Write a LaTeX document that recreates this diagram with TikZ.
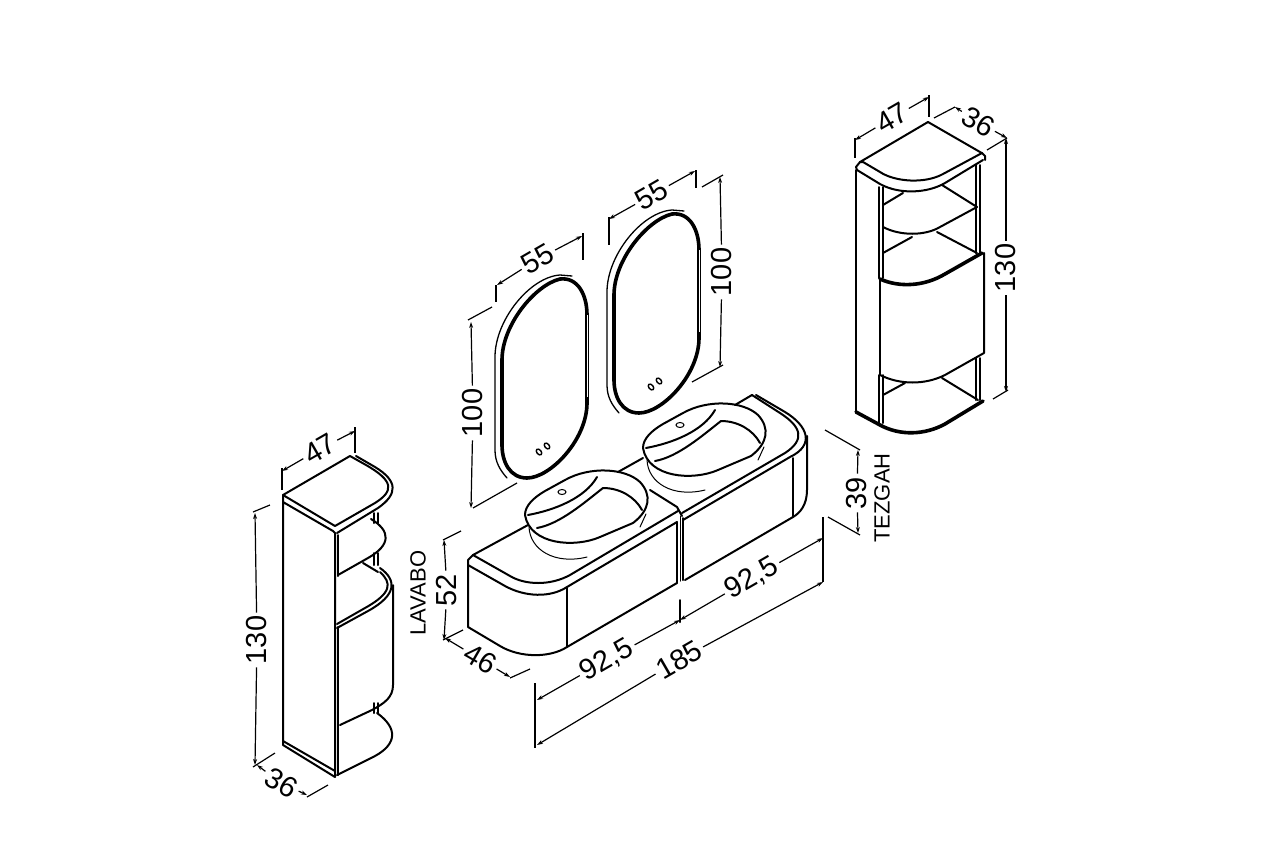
\documentclass[tikz,border=0pt]{standalone}
\usepackage{fontspec}
\setmainfont{Liberation Sans}
\usetikzlibrary{arrows.meta}
\tikzset{
	outline/.style = {draw = black, line width = 2pt, line cap = round, line join = round},
	hairline/.style = {draw = black, line width = 1pt, line cap = round},
	heavy/.style = {draw = black, line width = 3.6pt, line cap = round, line join = round},
	extline/.style = {draw = black, line width = 1.2pt},
	dimline/.style = {draw = black, line width = 1.2pt, -{Stealth[length = 6pt, width = 4pt]}},
	dimtext/.style = {font = \fontsize{29}{29}\selectfont, inner sep = 3pt},
	nametext/.style = {font = \fontsize{22}{22}\selectfont, inner sep = 0pt, rotate = 90}
}
\begin{document}
\begin{tikzpicture}[x = 1pt, y = -1pt]
	\useasboundingbox [fill = white] (0, 0) rectangle (1264, 841);

	% left cabinet
	\draw [outline] (283, 495) -- (350, 456) -- (366, 465) .. controls (394, 481) and (394, 491) .. (375, 503) -- (335, 526) -- cycle;
	\draw [outline] (356, 456) -- (375, 467) .. controls (398, 481) and (398, 494) .. (378, 508) -- (337, 533);
	\draw [outline] (283, 495) -- (283, 745) -- (335, 777) -- (335, 533) -- (333, 531) -- (283, 502);
	\draw [outline] (283, 741) -- (335, 771);
	\draw [outline] (338, 535) -- (338, 576);
	\draw [outline] (338, 627) -- (338, 775);
	\draw [outline] (338, 575) -- (368, 558) .. controls (391, 545) and (391, 531) .. (371, 519);
	\draw [outline] (363, 563) -- (378, 572);
	\draw [outline] (337, 624) -- (365, 608) .. controls (392, 593) and (392, 583) .. (380, 572);
	\draw [outline] (337, 628) -- (368, 611) .. controls (397, 595) and (397, 580) .. (380, 568);
	\draw [outline] (393, 585) -- (393, 685) .. controls (393, 697) and (385, 703) .. (372, 710) -- (340, 725);
	\draw [outline] (337, 775) -- (375, 756) .. controls (397, 744) and (398, 728) .. (377, 713);
	\foreach \postx in {374, 378}{
		\draw [outline] (\postx, 513) -- (\postx, 523);
		\draw [outline] (\postx, 553) -- (\postx, 565);
		\draw [outline] (\postx, 703) -- (\postx, 713);
	}

	% vanity top and body
	\draw [outline] (468, 560) -- (473, 555) -- (528, 525);
	\draw [outline] (618, 472) -- (643, 458);
	\draw [outline] (735, 405) -- (752, 395);
	\draw [outline] (473, 555) -- (510, 576) .. controls (525, 585) and (550, 586) .. (570, 575) -- (678, 511);
	\draw [outline] (468, 565) -- (505, 586) .. controls (525, 597) and (550, 598) .. (567, 587) -- (677, 522);
	\draw [outline] (468, 560) -- (468, 627) -- (500, 646) .. controls (520, 658) and (550, 658) .. (567, 647) -- (677, 583);
	\draw [outline] (567, 587) -- (567, 647);
	\draw [outline] (650, 490) -- (677, 507) -- (682, 516);
	\draw [outline] (677, 522) -- (677, 583);
	\draw [hairline] (680, 516) -- (680, 581);
	\draw [outline] (683, 518) -- (683, 580);
	\draw [outline] (752, 395) -- (780, 413) .. controls (802, 427) and (805, 440) .. (785, 453) -- (682, 513);
	\draw [outline] (756, 395) -- (785, 412) .. controls (808, 426) and (815, 445) .. (790, 457) -- (683, 520);
	\draw [outline] (807, 436) -- (807, 490) .. controls (807, 505) and (800, 513) .. (793, 517) -- (685, 580);
	\draw [outline] (793, 458) -- (793, 517);

	% basins
	\foreach \basinx/\basiny in {0/0, 118/-67}{
		\begin{scope}[shift = {(\basinx, \basiny)}]
			\draw [outline] (525, 515) .. controls (525, 506) and (533, 498) .. (545, 491) -- (565, 480) .. controls (590, 466) and (625, 468) .. (640, 482) .. controls (652, 495) and (650, 510) .. (633, 523) -- (600, 537) .. controls (575, 548) and (530, 545) .. (525, 515);
			\draw [outline] (528, 515) .. controls (555, 510) and (585, 498) .. (597, 477);
			\draw [outline] (537, 528) .. controls (560, 524) and (585, 502) .. (603, 488) .. controls (620, 488) and (635, 497) .. (642, 510);
			\draw [hairline] (529, 527) .. controls (530, 550) and (555, 565) .. (587, 557);
			\draw [hairline] (646, 514) -- (640, 527);
			\draw [hairline] (562, 492) ellipse [x radius = 4, y radius = 2.5];
		\end{scope}
	}

	% mirrors
	\foreach \mirrorx/\mirrory in {0/0, 112/-65}{
		\begin{scope}[shift = {(\mirrorx, \mirrory)}]
			\draw [heavy] (502, 360) .. controls (502, 325) and (535, 285) .. (560, 279) .. controls (578, 277) and (587, 295) .. (587, 315) -- (587, 403) .. controls (587, 440) and (550, 478) .. (527, 478) .. controls (510, 478) and (502, 462) .. (502, 445) -- cycle;
			\draw [outline, line width = 1.3pt] (507, 478) .. controls (500, 470) and (495, 462) .. (495, 450) -- (495, 357) .. controls (495, 320) and (530, 277) .. (560, 275) -- (572, 276);
			\draw [draw = white, line width = 0.8pt] (587, 315) -- (587, 397);
			\foreach \dotx/\doty in {539/452, 547/446}{
				\draw [outline, line width = 1.4pt, rotate around = {40:(\dotx, \doty)}] (\dotx, \doty) ellipse [x radius = 2.2, y radius = 3.4];
			}
		\end{scope}
	}

	% right cabinet
	\draw [outline] (928, 122) -- (860, 162);
	\draw [outline] (928, 122) -- (980, 152) -- (982, 153);
	\draw [outline] (982, 153) -- (943, 174) .. controls (925, 184) and (895, 182) .. (880, 172) -- (863, 162) -- (860, 162) -- (856, 167) -- (857, 170);
	\draw [outline] (857, 170) -- (880, 184) .. controls (900, 195) and (928, 193) .. (945, 183) -- (983, 160);
	\draw [outline] (982, 153) -- (985, 156) -- (985, 160);
	\draw [outline] (856, 170) -- (856, 412);
	\draw [heavy] (856, 412) -- (880, 425) .. controls (900, 436) and (925, 435) .. (945, 424) -- (983, 401);
	\foreach \postx in {879, 883}{
		\draw [outline] (\postx, 187) -- (\postx, 278);
		\draw [outline] (\postx, 375) -- (\postx, 423);
	}
	\foreach \postx in {976, 980}{
		\draw [outline] (\postx, 165) -- (\postx, 253);
		\draw [outline] (\postx, 358) -- (\postx, 400);
	}
	\draw [outline] (883, 205) -- (903, 193);
	\draw [outline] (942, 185) -- (977, 207);
	\draw [outline] (977, 207) -- (940, 227) .. controls (925, 236) and (900, 236) .. (883, 227);
	\draw [outline] (883, 253) -- (912, 237);
	\draw [outline] (937, 232) -- (977, 253);
	\draw [heavy] (880, 279) .. controls (900, 288) and (925, 286) .. (945, 274) -- (982, 253);
	\draw [outline] (880, 279) -- (880, 375);
	\draw [outline] (984, 253) -- (984, 353) -- (945, 375) .. controls (925, 385) and (900, 385) .. (880, 375);
	\draw [outline] (883, 395) -- (905, 383);
	\draw [outline] (942, 378) -- (978, 400);

	% dimension lines
	\foreach \name/\ax/\ay/\bx/\by/\tx/\ty/\ang/\val in {
		lcw/282/471/355/431/320/449/30/47,
		lch/255/513/255/765/257/640/90/130,
		lcd/257/765/307/795/281/783/-30/36,
		lvh/444/540/444/640/447/590/90/52,
		lvd/445/638/510/677/480/659/-30/46,
		lvl/537/700/680/620/607/660/30/{92,5},
		lvr/680/620/823/538/752/578/30/{92,5},
		lvt/537/745/823/582/679/660/30/185,
		tzh/858/450/858/533/857/493/90/39,
		mlw/497/285/582/236/538/259/30/55,
		mlh/471/322/471/508/473/413/90/100,
		mrw/609/219/695/171/652/195/30/55,
		mrh/720/177/720/367/722/272/90/100,
		rcw/855/140/929/97/892/118/30/47,
		rcd/955/107/1007/138/978/122/-30/36,
		rch/1006/138/1006/392/1006/268/90/130
	}{
		\coordinate (\name a) at (\ax, \ay);
		\coordinate (\name b) at (\bx, \by);
		\node [dimtext, rotate = \ang] (\name) at (\tx, \ty) {\val};
		\draw [dimline] (\name) -- (\name a);
		\draw [dimline] (\name) -- (\name b);
	}

	% extension lines
	\foreach \ax/\ay/\bx/\by in {
		282/490/282/468, 355/453/355/427, 253/512/270/505, 253/767/275/753, 307/797/328/785,
		443/540/461/531, 443/640/463/630, 510/678/530/669, 535/683/535/748, 823/517/823/582,
		825/430/860/450, 828/517/860/535,
		468/320/492/307, 473/508/517/483, 496/285/496/302, 583/233/583/260,
		702/187/723/175, 692/382/723/365, 609/217/609/245, 696/170/696/188,
		855/138/855/158, 929/95/929/117, 934/118/955/107, 987/150/1007/138, 993/399/1008/390
	}{
		\draw [extline] (\ax, \ay) -- (\bx, \by);
	}
	\draw [outline] (680, 600) -- (680, 622);

	\node [nametext] (lavabo) at (418, 593) {LAVABO};
	\node [nametext] (tezgah) at (882, 498) {TEZGAH};
\end{tikzpicture}
\end{document}
